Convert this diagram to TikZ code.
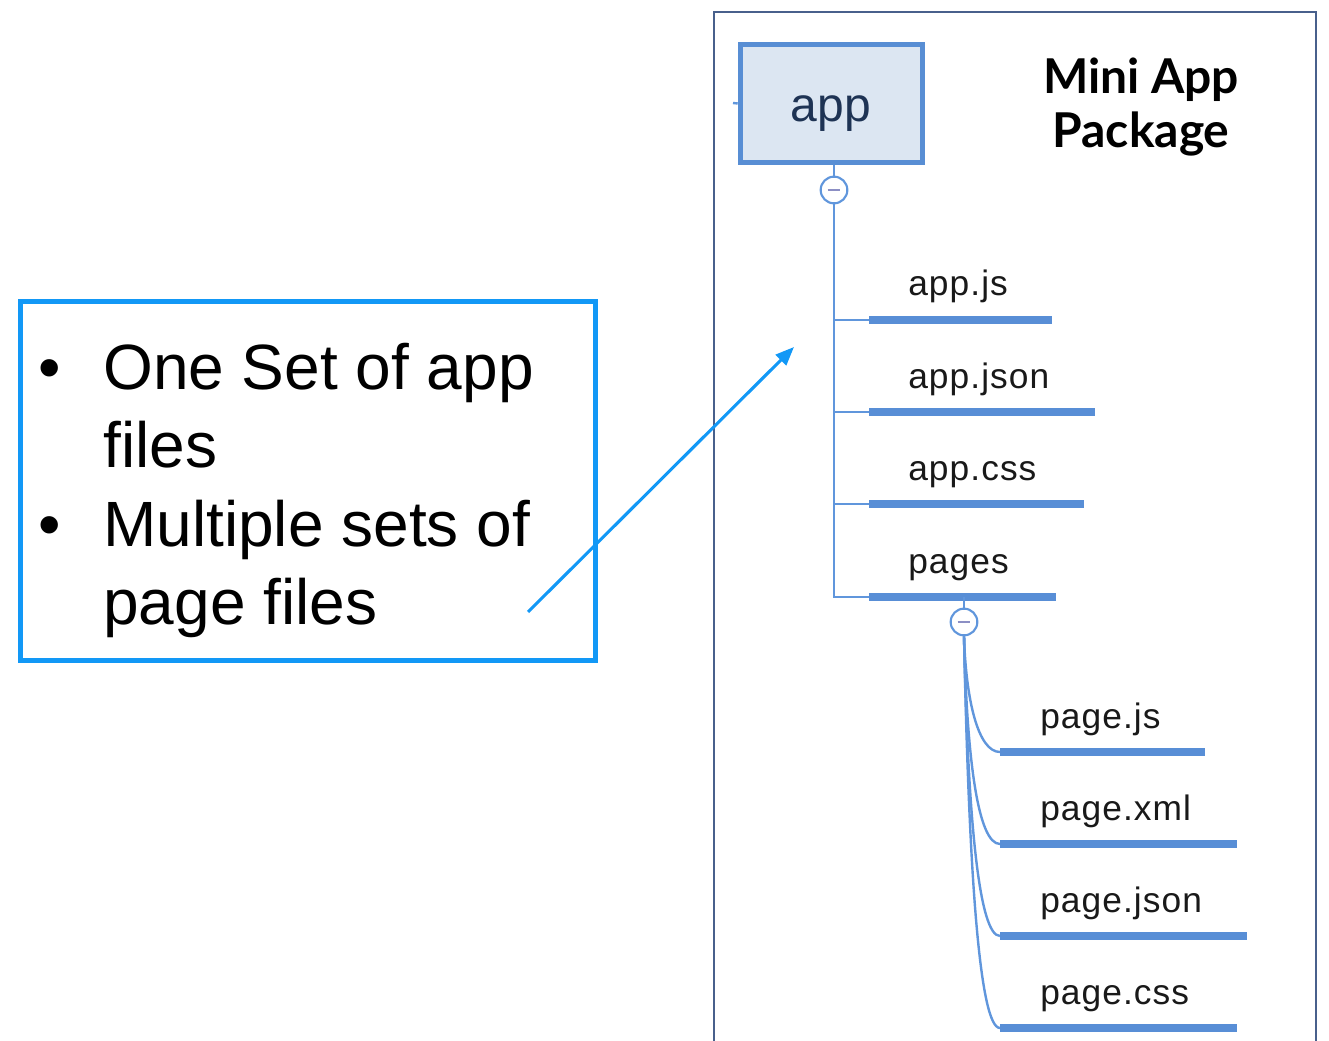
\documentclass[tikz,border=0pt]{standalone}
\usepackage{fontspec}
\setmainfont{Liberation Sans}
\newfontfamily\titlefont{Lato}
\newfontfamily\labelfont[LetterSpace=3]{Liberation Sans}
\usetikzlibrary{arrows.meta}

\definecolor{framecol}{RGB}{72,96,140}
\definecolor{boxfill}{RGB}{220,230,242}
\definecolor{boxline}{RGB}{88,142,212}
\definecolor{treeline}{RGB}{96,150,220}
\definecolor{barcol}{RGB}{88,142,214}
\definecolor{appink}{RGB}{30,51,84}
\definecolor{minuscol}{RGB}{140,143,196}
\definecolor{notecol}{RGB}{18,152,246}

\tikzset{
  appbox/.style={draw=boxline, fill=boxfill, line width=4.2pt,
    minimum width=136.5pt, minimum height=88.5pt, inner sep=0pt},
  apptext/.style={anchor=base, inner sep=0pt, text=appink,
    font=\fontsize{36}{40}\selectfont},
  toggle/.style={circle, draw=treeline, fill=white, line width=1.6pt,
    minimum size=20pt, inner sep=0pt},
  minus/.style={draw=minuscol, line width=2.2pt},
  trunk/.style={draw=treeline, line width=2.2pt},
  twig/.style={draw=treeline, line width=1.8pt},
  bar/.style={draw=barcol, line width=6pt},
  filelabel/.style={anchor=base west, inner sep=0pt, text=black!90,
    font=\labelfont\fontsize{26.5}{30}\selectfont},
  notetext/.style={anchor=base west, inner sep=0pt,
    font=\fontsize{48}{56}\selectfont},
  notebullet/.style={anchor=base, inner sep=0pt,
    font=\fontsize{48}{56}\selectfont},
  titletext/.style={align=center, inner sep=0pt,
    font=\titlefont\bfseries\fontsize{36}{40.5}\selectfont}
}

\begin{document}
\begin{tikzpicture}[x=0.75pt, y=-0.75pt]
\useasboundingbox (0,0) rectangle (1329,1041);

% package frame (open at the bottom)
\draw[framecol, line width=1.5pt] (714,1041) -- (714,12) -- (1316,12) -- (1316,1041);

% title
\node[titletext] (title) at (1141,107) {Mini App\\Package};

% root folder
\node[appbox] (app) at (831.5,103.5) {};
\node[apptext] (applabel) at (831,122) {app};
\coordinate (stub) at (733,103);
\draw[twig] (stub) -- (app.west);

% first toggle and trunk
\node[toggle] (t1) at (834,190) {};
\draw[minus] ([xshift=-4.8pt]t1.center) -- ([xshift=4.8pt]t1.center);
\draw[trunk] (app.south -| t1.north) -- (t1.north);

\coordinate (b1) at (869,320);
\coordinate (b2) at (869,412);
\coordinate (b3) at (869,504);
\coordinate (b4) at (869,597);
\draw[trunk] (t1.south) -- (t1.south |- b4) -- (b4);
\draw[trunk] (t1.south |- b1) -- (b1);
\draw[trunk] (t1.south |- b2) -- (b2);
\draw[trunk] (t1.south |- b3) -- (b3);

\coordinate (e1) at (1052,320);
\coordinate (e2) at (1095,412);
\coordinate (e3) at (1084,504);
\coordinate (e4) at (1056,597);
\draw[bar] (b1) -- (e1);
\draw[bar] (b2) -- (e2);
\draw[bar] (b3) -- (e3);
\draw[bar] (b4) -- (e4);

\node[filelabel] (appjs)   at (908,296) {app.js};
\node[filelabel] (appjson) at (908,388) {app.json};
\node[filelabel] (appcss)  at (908,480) {app.css};
\node[filelabel] (pages)   at (908,573) {pages};

% pages toggle and its children
\node[toggle] (t2) at (964,622) {};
\draw[minus] ([xshift=-4.8pt]t2.center) -- ([xshift=4.8pt]t2.center);
\draw[trunk] (t2.north) -- (t2.north |- b4);

\coordinate (p1) at (1000,752);
\coordinate (p2) at (1000,844);
\coordinate (p3) at (1000,936);
\coordinate (p4) at (1000,1028);
\draw[twig] (t2.south) .. controls (966,700) and (978,752) .. (p1);
\draw[twig] (t2.south) .. controls (967,760) and (978,844) .. (p2);
\draw[twig] (t2.south) .. controls (968,820) and (979,936) .. (p3);
\draw[twig] (t2.south) .. controls (969,880) and (980,1028) .. (p4);

\coordinate (q1) at (1205,752);
\coordinate (q2) at (1237,844);
\coordinate (q3) at (1247,936);
\coordinate (q4) at (1237,1028);
\draw[bar] (p1) -- (q1);
\draw[bar] (p2) -- (q2);
\draw[bar] (p3) -- (q3);
\draw[bar] (p4) -- (q4);

\node[filelabel] (pagejs)   at (1040,728)  {page.js};
\node[filelabel] (pagexml)  at (1040,820)  {page.xml};
\node[filelabel] (pagejson) at (1040,912)  {page.json};
\node[filelabel] (pagecss)  at (1040,1004) {page.css};

% note box
\draw[notecol, line width=3.75pt] (20.5,301.5) rectangle (595.5,660.5);
\node[notebullet] (bul1) at (50,390) {•};
\node[notetext] (l1) at (103,390) {One Set of app};
\node[notetext] (l2) at (103,468) {files};
\node[notebullet] (bul2) at (50,546) {•};
\node[notetext] (l3) at (103,546) {Multiple sets of};
\node[notetext] (l4) at (103,624) {page files};

% pointer into the package
\coordinate (tail) at (528,612);
\coordinate (head) at (794,347);
\draw[notecol, line width=2.3pt, -{Triangle[length=14pt,width=11pt]}] (tail) -- (head);
\end{tikzpicture}
\end{document}
